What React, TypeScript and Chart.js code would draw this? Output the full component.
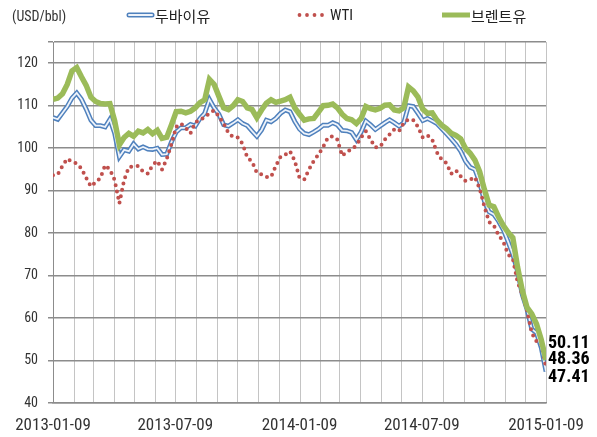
import React, { useEffect, useRef } from "react";
import { Chart, registerables } from "chart.js";

Chart.register(...registerables);

// ---------- data ----------
const startDate = "2013-01-09";
const endDate = "2015-01-09";
const xTickLabels = ["2013-01-09", "2013-07-09", "2014-01-09", "2014-07-09", "2015-01-09"];
const unitLabel = "(USD/bbl)";
const seriesNames = ["두바이유", "WTI", "브렌트유"];

// weekly samples from 2013-01-09 to 2015-01-09
const dubai = [
  107.2, 106.8, 108.3, 109.8, 111.8, 113.0, 111.5, 109.2, 106.6, 105.3,
  105.3, 105.0, 106.8, 103.5, 98.0, 99.6, 99.3, 101.0, 99.8, 100.3,
  99.8, 99.7, 100.0, 98.5, 98.6, 101.5, 103.8, 104.8, 104.8, 105.6,
  105.2, 107.0, 108.2, 111.5, 109.5, 108.0, 105.5, 105.2, 105.9, 106.7,
  105.8, 105.3, 104.0, 102.8, 104.3, 106.6, 106.2, 107.0, 108.2, 109.0,
  108.6, 106.3, 104.5, 103.5, 103.2, 103.8, 104.5, 105.4, 105.4, 106.0,
  105.5, 104.2, 104.1, 103.7, 102.0, 103.8, 106.4, 105.5, 104.4, 105.2,
  106.0, 106.7, 106.0, 105.2, 106.0, 110.0, 109.8, 108.2, 106.5, 107.0,
  106.4, 105.8, 104.6, 103.4, 102.2, 100.9, 99.3, 97.0, 95.5, 95.0,
  92.0, 87.5, 85.0, 84.4, 82.8, 80.8, 78.0, 75.0, 71.0, 65.5,
  62.0, 57.4, 56.5, 53.0, 47.41,
];

const wti = [
  93.6, 93.8, 95.8, 97.5, 96.8, 96.4, 95.2, 93.0, 91.0, 92.0,
  93.0, 96.0, 95.0, 92.5, 87.0, 92.5, 95.5, 95.8, 95.8, 94.5,
  94.0, 96.0, 97.0, 95.0, 97.5, 101.0, 105.0, 105.8, 104.8, 103.5,
  106.0, 106.8, 107.2, 108.3, 108.9, 107.5, 105.8, 103.6, 102.6, 102.5,
  101.0, 97.8, 96.8, 94.2, 93.8, 93.2, 93.2, 95.8, 98.0, 98.5,
  99.3, 97.0, 93.0, 92.6, 95.0, 97.0, 98.5, 100.3, 102.5, 102.8,
  102.0, 98.2, 99.2, 99.7, 100.7, 102.5, 104.0, 102.0, 100.2, 100.3,
  102.0, 103.2, 104.4, 104.0, 106.0, 106.8, 106.6, 105.0, 102.5, 103.0,
  102.0, 99.0, 97.3, 96.5, 94.0, 94.8, 93.4, 92.3, 92.6, 93.2,
  90.5, 86.3, 82.6, 81.8, 79.5, 78.0, 75.0, 74.0, 68.5, 65.6,
  61.8, 56.5, 54.5, 54.0, 48.36,
];

const brent = [
  111.5, 111.8, 112.8, 115.0, 118.2, 119.0, 116.8, 114.8, 112.0, 111.0,
  110.5, 110.4, 110.5, 106.5, 100.8, 102.5, 103.5, 102.8, 104.0, 103.6,
  104.4, 103.4, 104.2, 102.3, 102.6, 105.5, 108.6, 108.7, 108.3, 108.7,
  109.5, 110.7, 111.4, 116.2, 115.0, 112.2, 109.5, 109.1, 110.0, 111.4,
  111.0, 109.5, 109.1, 107.2, 109.0, 110.6, 111.4, 110.8, 111.1, 111.4,
  112.0, 109.5, 108.0, 106.6, 106.9, 107.0, 108.5, 110.0, 110.1, 110.4,
  109.5, 108.0, 107.0, 106.7, 105.8, 107.0, 109.8, 109.3, 109.0, 109.4,
  110.1, 110.2, 109.0, 108.8, 109.5, 114.4, 113.5, 112.0, 109.2, 108.2,
  108.3, 106.6, 105.4, 104.6, 103.5, 103.0, 102.2, 100.0, 98.8, 97.2,
  94.5, 90.3, 86.6, 86.2, 83.8, 81.8, 80.2, 78.9, 72.0, 66.5,
  62.5, 61.0, 58.6, 54.9, 50.11,
];

// ---------- helpers ----------
const DAY = 86400000;
const t0 = Date.parse(startDate + "T00:00:00Z");
const totalDays = (Date.parse(endDate + "T00:00:00Z") - t0) / DAY;
const toPoints = (arr: number[]) =>
  arr.map((v, i) => ({ x: (i * totalDays) / (arr.length - 1), y: v }));
const dayToStr = (d: number) => new Date(t0 + Math.round(d) * DAY).toISOString().slice(0, 10);

const monthTicks: number[] = [];
for (let m = 0; m <= 24; m++) {
  monthTicks.push((Date.UTC(2013, m, 9) - t0) / DAY);
}

const NARROW = "'Roboto Condensed', 'DejaVu Sans Condensed', sans-serif";
const KR = "'Noto Sans CJK KR', 'Noto Sans CJK SC', sans-serif";

const C_DUBAI = "#4f81bd";
const C_DUBAI_IN = "#eef3fa";
const C_WTI = "#c0504d";
const C_BRENT = "#9bbb59";

// vertical monthly grid lines, taken from the x scale's ticks
const monthGridPlugin = {
  id: "monthGrid",
  beforeDraw(chart: any) {
    const ctx = chart.ctx as CanvasRenderingContext2D;
    const xs = chart.scales.x;
    const { top, bottom } = chart.chartArea;
    ctx.save();
    ctx.strokeStyle = "#c4c4c4";
    ctx.lineWidth = 1;
    xs.ticks.forEach((t: any) => {
      const px = Math.round(xs.getPixelForValue(t.value)) + 0.5;
      ctx.beginPath();
      ctx.moveTo(px, top);
      ctx.lineTo(px, bottom);
      ctx.stroke();
    });
    ctx.restore();
  },
};

const legendPlugin = {
  id: "customLegend",
  afterDraw(chart: any) {
    const ctx = chart.ctx as CanvasRenderingContext2D;
    ctx.save();
    ctx.textBaseline = "middle";
    ctx.textAlign = "left";
    ctx.fillStyle = "#333333";
    ctx.font = `14px ${NARROW}`;
    ctx.fillText(unitLabel, 12, 17);

    // Dubai symbol (double line)
    ctx.lineCap = "round";
    ctx.strokeStyle = C_DUBAI;
    ctx.lineWidth = 5;
    ctx.beginPath();
    ctx.moveTo(129, 15);
    ctx.lineTo(152, 15);
    ctx.stroke();
    ctx.strokeStyle = C_DUBAI_IN;
    ctx.lineWidth = 2;
    ctx.beginPath();
    ctx.moveTo(129, 15);
    ctx.lineTo(152, 15);
    ctx.stroke();
    ctx.fillStyle = "#222222";
    ctx.font = `15px ${KR}`;
    ctx.fillText(seriesNames[0], 155, 16);

    // WTI symbol (dots)
    ctx.fillStyle = C_WTI;
    for (let i = 0; i < 4; i++) {
      ctx.beginPath();
      ctx.arc(299.5 + i * 7.5, 15, 1.9, 0, Math.PI * 2);
      ctx.fill();
    }
    ctx.fillStyle = "#222222";
    ctx.font = `15px ${NARROW}`;
    ctx.fillText(seriesNames[1], 330, 16);

    // Brent symbol
    ctx.strokeStyle = C_BRENT;
    ctx.lineWidth = 5;
    ctx.lineCap = "butt";
    ctx.beginPath();
    ctx.moveTo(442, 15);
    ctx.lineTo(470, 15);
    ctx.stroke();
    ctx.fillStyle = "#222222";
    ctx.font = `15px ${KR}`;
    ctx.fillText(seriesNames[2], 471, 16);
    ctx.restore();
  },
};

const endLabelPlugin = {
  id: "endLabels",
  afterDatasetsDraw(chart: any) {
    const ctx = chart.ctx as CanvasRenderingContext2D;
    const right = chart.chartArea.right;
    const items = [
      { idx: 0, value: brent[brent.length - 1], dy: -17 },
      { idx: 1, value: wti[wti.length - 1], dy: -8 },
      { idx: 3, value: dubai[dubai.length - 1], dy: 6 },
    ];
    ctx.save();
    ctx.font = `bold 18px ${NARROW}`;
    ctx.fillStyle = "#000000";
    ctx.textBaseline = "middle";
    ctx.textAlign = "left";
    items.forEach((it) => {
      const meta = chart.getDatasetMeta(it.idx);
      const pt = meta.data[meta.data.length - 1];
      ctx.fillText(it.value.toFixed(2), right + 2, pt.y + it.dy);
    });
    ctx.restore();
  },
};

export default function App() {
  const ref = useRef<HTMLCanvasElement | null>(null);

  useEffect(() => {
    document.body.style.margin = "0";
    const canvas = ref.current;
    if (!canvas) return;
    const chart = new Chart(canvas, {
      type: "line",
      data: {
        datasets: [
          {
            label: seriesNames[2],
            data: toPoints(brent),
            borderColor: C_BRENT,
            borderWidth: 5.5,
            pointRadius: 0,
            order: 0,
          },
          {
            label: seriesNames[1],
            data: toPoints(wti),
            borderColor: C_WTI,
            borderWidth: 4,
            borderDash: [0, 6.5],
            borderCapStyle: "round",
            pointRadius: 0,
            order: 1,
          },
          {
            label: seriesNames[0] + " (inner)",
            data: toPoints(dubai),
            borderColor: C_DUBAI_IN,
            borderWidth: 1.8,
            pointRadius: 0,
            order: 2,
          },
          {
            label: seriesNames[0],
            data: toPoints(dubai),
            borderColor: C_DUBAI,
            borderWidth: 4.8,
            pointRadius: 0,
            order: 3,
          },
        ],
      },
      options: {
        responsive: false,
        animation: false,
        devicePixelRatio: 1,
        layout: { padding: { top: 42, right: 51, left: 0, bottom: 0 } },
        plugins: {
          legend: { display: false },
          tooltip: { enabled: false },
        },
        scales: {
          x: {
            type: "linear",
            min: 0,
            max: totalDays,
            afterBuildTicks: (scale: any) => {
              scale.ticks = monthTicks.map((v) => ({ value: v }));
            },
            afterFit: (scale: any) => {
              scale.height = 34;
            },
            ticks: {
              autoSkip: false,
              maxRotation: 0,
              minRotation: 0,
              padding: 13,
              color: "#333333",
              font: { family: NARROW, size: 17 },
              callback: (value: any) => {
                const s = dayToStr(Number(value));
                return xTickLabels.includes(s) ? s : "";
              },
            },
            grid: { display: false, drawTicks: false },
            border: { color: "#8c8c8c", width: 1.5 },
          },
          y: {
            type: "linear",
            min: 40,
            max: 125,
            afterFit: (scale: any) => {
              scale.width = 53;
            },
            ticks: {
              stepSize: 10,
              padding: 10,
              color: "#333333",
              font: { family: NARROW, size: 14 },
              callback: (value: any) => (Number(value) % 10 === 0 ? String(value) : ""),
            },
            grid: { color: "#8c8c8c", lineWidth: 1.5, tickLength: 5, drawTicks: true },
            border: { color: "#8c8c8c", width: 1 },
          },
        },
      },
      plugins: [monthGridPlugin, legendPlugin, endLabelPlugin],
    });
    return () => chart.destroy();
  }, []);

  return (
    <div style={{ width: 597, height: 437, background: "#ffffff" }}>
      <canvas ref={ref} width={597} height={437} style={{ display: "block" }} />
    </div>
  );
}
